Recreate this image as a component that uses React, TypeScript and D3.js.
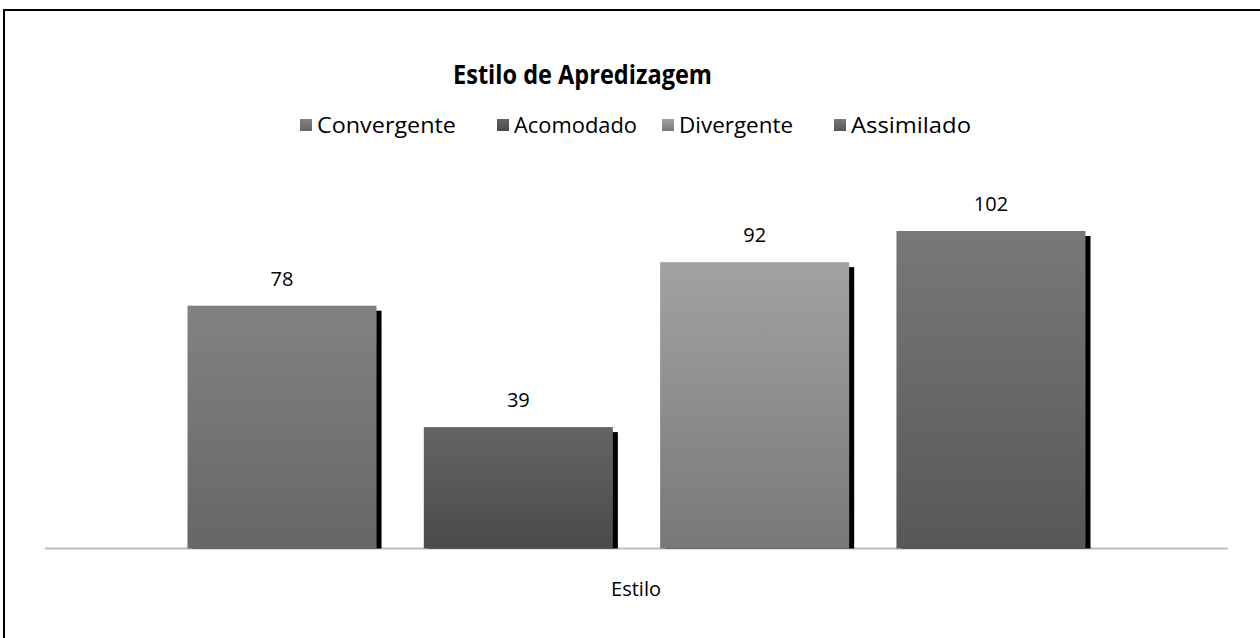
import React from "react";
import * as d3 from "d3";

const categories = ["Estilo"];
const seriesNames = ["Convergente", "Acomodado", "Divergente", "Assimilado"];
const seriesValues = [78, 39, 92, 102];
const gradTop = ["#828282", "#646464", "#a2a2a2", "#787878"];
const gradBottom = ["#666666", "#4a4a4a", "#787878", "#575757"];

const W = 1260;
const H = 638;
const FONT = "'Open Sans', 'Noto Sans', sans-serif";

export default function App() {
  const plotLeft = 45;
  const plotRight = 1228;
  const baseY = 548.5;

  const y = d3.scaleLinear().domain([0, 102]).range([baseY, 231]);
  const x0 = d3.scaleBand().domain(categories).range([plotLeft, plotRight]).padding(0);
  const groupPad = 142.5;
  const x1 = d3
    .scaleBand()
    .domain(seriesNames)
    .range([x0("Estilo")! + groupPad, x0("Estilo")! + x0.bandwidth() - groupPad])
    .paddingInner(0.2)
    .paddingOuter(0);

  const legendX = [300, 497, 662, 834];
  const legendW = [139, 123, 114, 120];

  return (
    <svg
      width={W}
      height={H}
      style={{ position: "absolute", left: 0, top: 0, background: "#fff" }}
      fontFamily={FONT}
    >
      <defs>
        {seriesNames.map((s, i) => (
          <linearGradient key={s} id={`g${i}`} x1="0" y1="0" x2="0" y2="1">
            <stop offset="0%" stopColor={gradTop[i]} />
            <stop offset="100%" stopColor={gradBottom[i]} />
          </linearGradient>
        ))}
      </defs>
      <rect x={0} y={0} width={W} height={H} fill="#fff" />
      <rect x={4} y={10} width={1400} height={800} fill="none" stroke="#000" strokeWidth={2} />

      <text
        x={453}
        y={84}
        fontSize={27}
        fontWeight="bold"
        fill="#000"
        textLength={259}
        lengthAdjust="spacingAndGlyphs"
      >
        Estilo de Apredizagem
      </text>

      {seriesNames.map((s, i) => (
        <g key={s}>
          <rect x={legendX[i]} y={119} width={12} height={12} fill={`url(#g${i})`} />
          <text
            x={legendX[i] + 17}
            y={133}
            fontSize={21.5}
            fill="#000"
            textLength={legendW[i]}
            lengthAdjust="spacingAndGlyphs"
          >
            {s}
          </text>
        </g>
      ))}

      <line x1={plotLeft} x2={plotRight} y1={baseY} y2={baseY} stroke="#bdbdbd" strokeWidth={2} />

      {seriesNames.map((s, i) => {
        const bx = x1(s)!;
        const by = y(seriesValues[i]);
        const bw = x1.bandwidth();
        return (
          <g key={s}>
            <rect x={bx + 5} y={by + 5} width={bw} height={baseY - by - 5} fill="#000" />
            <rect x={bx} y={by} width={bw} height={baseY - by} fill={`url(#g${i})`} />
            <text x={bx + bw / 2} y={by - 20} textAnchor="middle" fontSize={20} fill="#000">
              {seriesValues[i]}
            </text>
          </g>
        );
      })}

      <text
        x={611}
        y={596}
        fontSize={20.5}
        fill="#000"
        textLength={50}
        lengthAdjust="spacingAndGlyphs"
      >
        {categories[0]}
      </text>
    </svg>
  );
}
